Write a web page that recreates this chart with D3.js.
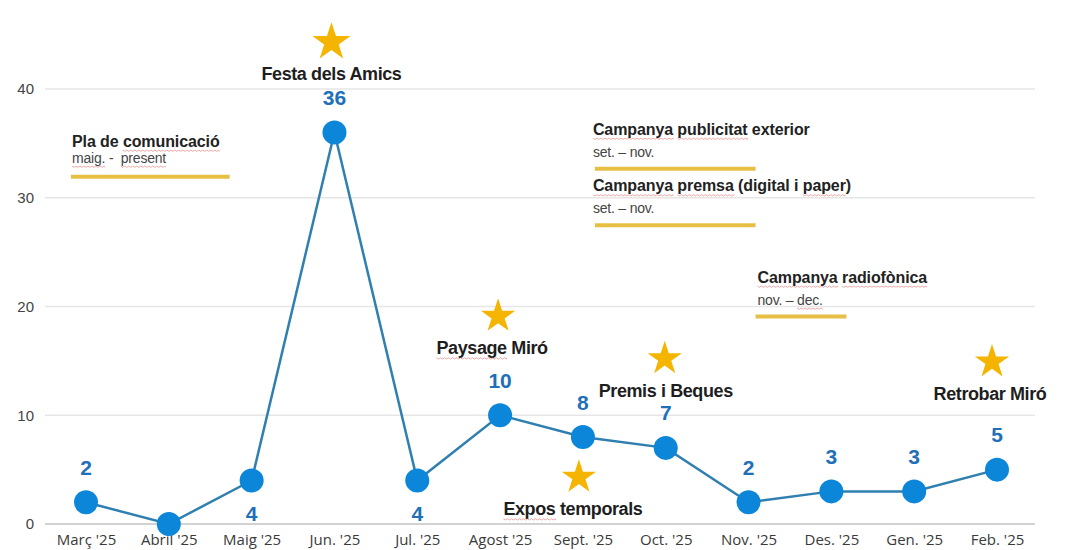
<!DOCTYPE html>
<html>
<head>
<meta charset="utf-8">
<script src="https://cdn.jsdelivr.net/npm/d3@7"></script>
<style>
  html, body { margin: 0; padding: 0; background: #fff; }
  svg { display: block; }
  text { white-space: pre; }
</style>
</head>
<body>
<svg id="chart" width="1066" height="550"></svg>
<script>
// ---------- DATA ----------
const months = ["Març '25", "Abril '25", "Maig '25", "Jun. '25", "Jul. '25", "Agost '25",
                "Sept. '25", "Oct. '25", "Nov. '25", "Des. '25", "Gen. '25", "Feb. '25"];
const visits = [2, 0, 4, 36, 4, 10, 8, 7, 2, 3, 3, 5];
const labelSide = ["above", "none", "below", "above", "below", "above",
                   "above", "above", "above", "above", "above", "above"];
const yTicks = [0, 10, 20, 30, 40];

// events marked with a star: name, month index, anchor value
const eventNames  = ["Festa dels Amics", "Paysage Miró", "Premis i Beques", "Expos temporals", "Retrobar Miró"];
const eventMonths = [3, 5, 7, 6, 11];
const eventValues = [44.3, 19.1, 15.2, 4.3, 14.9];
const eventSpell  = [[], ["Paysage"], [], ["Expos"], []];

// campaigns: title, period, start month, end month, anchor value for title
const campaignTitles  = ["Pla de comunicació", "Campanya publicitat exterior", "Campanya premsa (digital i paper)", "Campanya radiofònica"];
const campaignPeriods = ["maig. -  present", "set. – nov.", "set. – nov.", "nov. – dec."];
const campaignStart   = [0, 6, 6, 8];
const campaignEnd     = [2, 8, 8, 9];
const campaignValues  = [34.7, 35.8, 30.6, 22.2];
const campaignSpell   = [["comunicació", "maig.", "present"], ["Campanya", "publicitat"], ["Campanya", "premsa", "paper"], ["Campanya", "radiofònica", "dec."]];

// ---------- LAYOUT ----------
const svg = d3.select("#chart");
const x = d3.scalePoint().domain(months).range([86, 997]);
const y = d3.scaleLinear().domain([0, 40]).range([524, 89]);

const gridX0 = 45, gridX1 = 1035;
const lineStartDx = [-15, 12, 12, 7];
const lineEndDx   = [-22, 7, 7, 15];
const textDx      = [-14, 10, 10, 9];
const eventStarDx = [-3, -2, -1, -4, -5];
const eventTextDx = [-3, -8, 0, -10, -7];

// gridlines
svg.append("g").selectAll("line").data(yTicks).join("line")
  .attr("x1", gridX0).attr("x2", gridX1)
  .attr("y1", d => y(d)).attr("y2", d => y(d))
  .attr("stroke", d => d === 0 ? "#d2d2d2" : "#e6e6e6")
  .attr("stroke-width", d => d === 0 ? 2 : 1.5);

// y tick labels
svg.append("g").selectAll("text").data(yTicks).join("text")
  .attr("x", 34).attr("y", d => y(d))
  .attr("dy", "0.35em")
  .attr("text-anchor", "end")
  .attr("font-family", "Liberation Sans, Arial, sans-serif")
  .attr("font-size", 15)
  .attr("fill", "#444")
  .text(d => d);

// x axis labels
const xAxis = d3.axisBottom(x).tickSize(0).tickPadding(0);
const gx = svg.append("g").attr("transform", "translate(0,534)").call(xAxis);
gx.select(".domain").remove();
gx.selectAll("text")
  .attr("font-family", "Open Sans, sans-serif")
  .attr("font-size", 15)
  .attr("fill", "#3a3a3a")
  .attr("dy", "0.75em");

// helper: spell-check squiggle under words
function squiggle(textSel, words) {
  const node = textSel.node();
  const str = node.textContent;
  const n = node.getNumberOfChars();
  words.forEach(w => {
    const i = str.indexOf(w);
    if (i < 0 || i + w.length > n) return;
    try {
      const p0 = node.getStartPositionOfChar(i);
      const p1 = node.getEndPositionOfChar(i + w.length - 1);
      const yy = p0.y + 3.5;
      let d = `M${p0.x},${yy}`;
      for (let xx = p0.x, k = 0; xx < p1.x; xx += 2, k++) {
        d += ` L${Math.min(xx + 2, p1.x)},${yy + (k % 2 ? 0 : 1.2)}`;
      }
      svg.append("path").attr("d", d).attr("fill", "none")
        .attr("stroke", "#d9534f").attr("stroke-opacity", 0.55).attr("stroke-width", 0.9);
    } catch (e) { /* ignore */ }
  });
}

// campaigns
campaignTitles.forEach((t, i) => {
  const tx = x(months[campaignStart[i]]) + textDx[i];
  const ty = y(campaignValues[i]);
  const title = svg.append("text")
    .attr("x", tx).attr("y", ty)
    .attr("font-family", "Liberation Sans, Arial, sans-serif")
    .attr("font-weight", "bold")
    .attr("font-size", 16)
    .attr("letter-spacing", -0.1)
    .attr("fill", "#222")
    .text(t);
  const sub = svg.append("text")
    .attr("x", tx).attr("y", ty + (i === 0 ? 16 : 22))
    .attr("font-family", "Liberation Sans, Arial, sans-serif")
    .attr("font-size", 14)
    .attr("letter-spacing", -0.2)
    .attr("fill", "#444")
    .text(campaignPeriods[i]);
  const words = campaignSpell[i];
  squiggle(title, words.filter(w => t.includes(w)));
  squiggle(sub, words.filter(w => campaignPeriods[i].includes(w)));
  svg.append("line")
    .attr("x1", x(months[campaignStart[i]]) + lineStartDx[i])
    .attr("x2", x(months[campaignEnd[i]]) + lineEndDx[i])
    .attr("y1", ty + (i === 0 ? 30 : 34))
    .attr("y2", ty + (i === 0 ? 30 : 34))
    .attr("stroke", "#e6c044")
    .attr("stroke-width", 4);
});

// line
svg.append("path")
  .datum(visits)
  .attr("fill", "none")
  .attr("stroke", "#2f7fb0")
  .attr("stroke-width", 2.5)
  .attr("d", d3.line().x((d, i) => x(months[i])).y(d => y(d)));

// dots
svg.append("g").selectAll("circle").data(visits).join("circle")
  .attr("cx", (d, i) => x(months[i]))
  .attr("cy", d => y(d))
  .attr("r", 12)
  .attr("fill", "#0b86d8");

// value labels
const labelled = visits.map((v, i) => ({ v, i, side: labelSide[i] })).filter(d => d.side !== "none");
svg.append("g").selectAll("text").data(labelled).join("text")
  .attr("x", d => x(months[d.i]))
  .attr("y", d => y(d.v) + (d.side === "above" ? -35 : 33))
  .attr("dy", "0.36em")
  .attr("text-anchor", "middle")
  .attr("font-family", "Liberation Sans, Arial, sans-serif")
  .attr("font-weight", "bold")
  .attr("font-size", 21)
  .attr("fill", "#1f70b8")
  .text(d => d.v);

// events (stars + names)
const star = d3.symbol().type(d3.symbolStar);
eventNames.forEach((name, i) => {
  const sx = x(months[eventMonths[i]]) + eventStarDx[i];
  const sy = y(eventValues[i]);
  const R = i === 0 ? 20 : 18;
  svg.append("path")
    .attr("d", star.size(R * R / 0.8908130915)())
    .attr("transform", `translate(${sx},${sy})`)
    .attr("fill", "#f5b400");
  const t = svg.append("text")
    .attr("x", x(months[eventMonths[i]]) + eventTextDx[i])
    .attr("y", sy + 38)
    .attr("text-anchor", "middle")
    .attr("font-family", "Liberation Sans, Arial, sans-serif")
    .attr("font-weight", "bold")
    .attr("font-size", 18)
    .attr("letter-spacing", -0.4)
    .attr("fill", "#1e1e1e")
    .text(name);
  squiggle(t, eventSpell[i]);
});
</script>
</body>
</html>
